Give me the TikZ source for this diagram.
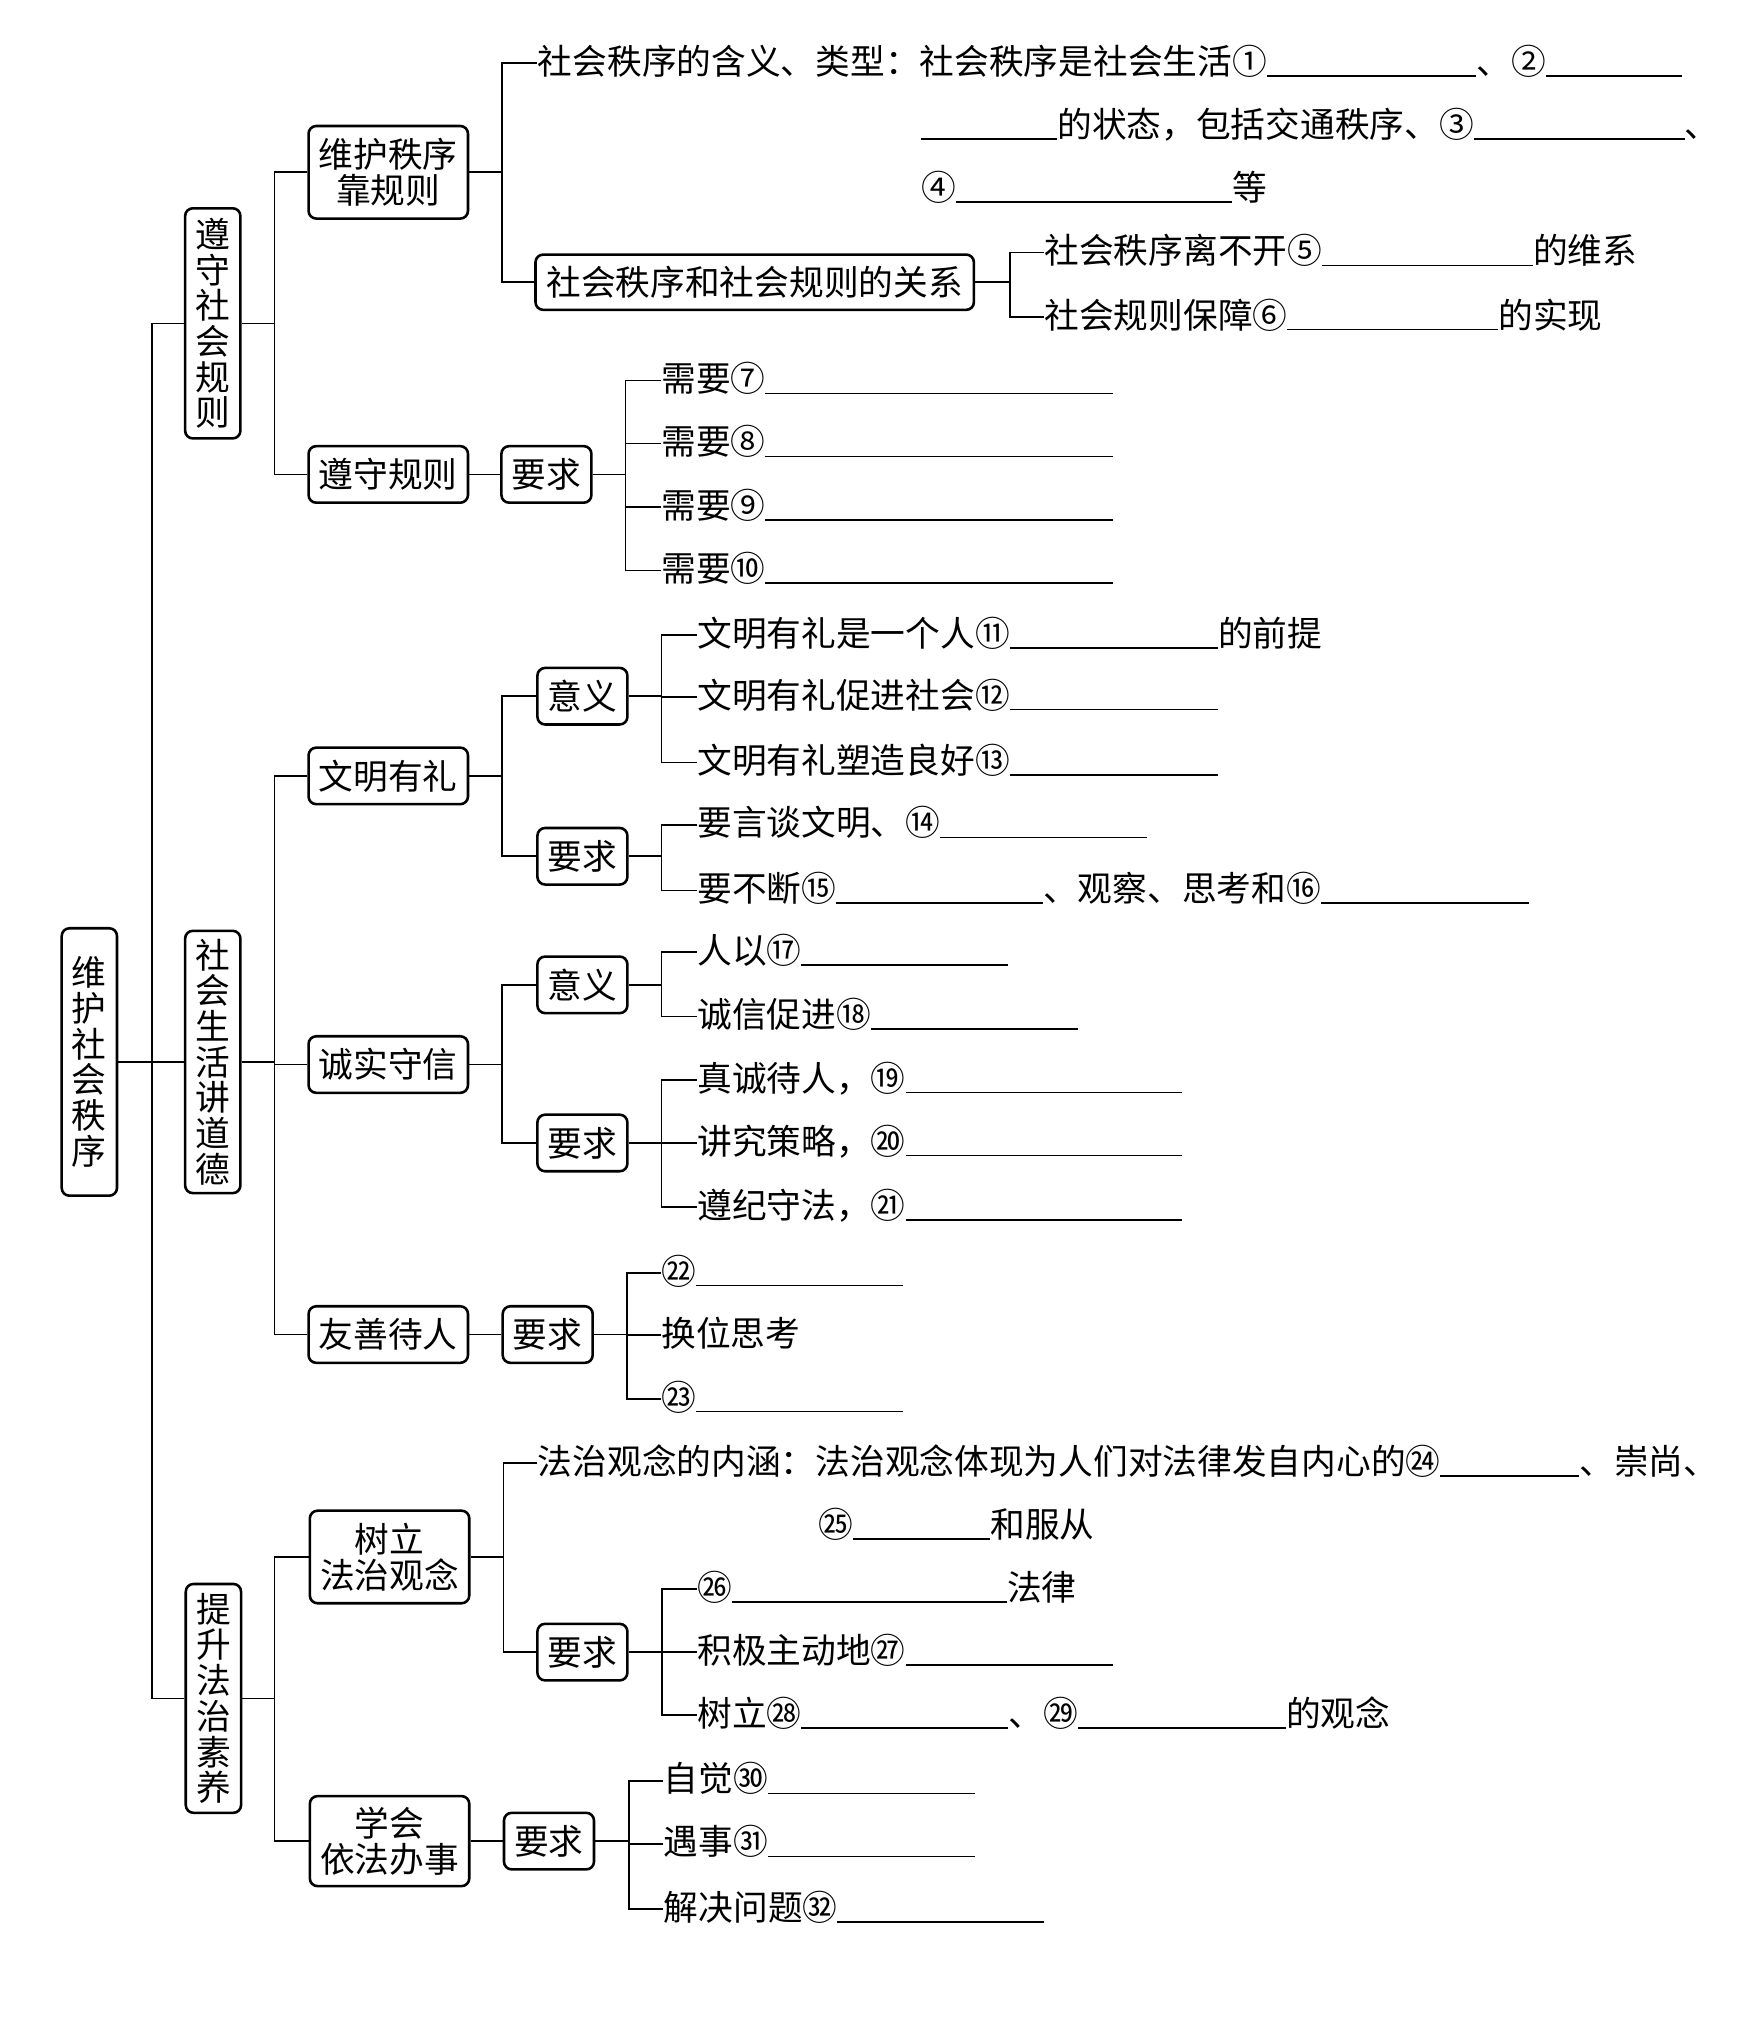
\documentclass[tikz,border=0pt]{standalone}
\usepackage{fontspec}
\setmainfont{Noto Sans CJK SC}
\newcommand\bl[1]{\rule[-0.9pt]{#1pt}{0.6pt}}
\newcommand\cn[1]{\makebox[13.5pt]{#1}}
\newcommand\fan[4]{%
  \coordinate (tmpv) at (#2,0);
  \draw[conn] (#1.east) -- (#1.east -| tmpv);
  \draw[conn] (#3.west) -- (#3.west -| tmpv) -- (#4.west -| tmpv) -- (#4.west);}
\newcommand\midc[1]{\draw[conn] (#1.west) -- (#1.west -| tmpv);}
\begin{document}
\begin{tikzpicture}[x=0.5pt,y=-0.5pt,
  every node/.style={font=\fontsize{13.5}{13.9}\selectfont},
  box/.style={draw, line width=1pt, rounded corners=3pt, inner sep=0pt, align=center},
  vbox/.style={box, minimum width=21.5pt},
  hbox/.style={box, minimum width=62pt, minimum height=22pt},
  dbox/.style={box, minimum width=62pt, minimum height=36pt},
  rbox/.style={box, minimum width=35pt, minimum height=22pt},
  txt/.style={anchor=west, inner sep=0pt, text height=0.95em, text depth=0.08em},
  conn/.style={line width=0.65pt}]
\useasboundingbox (0,0) rectangle (1365,1569.6);

% level 0 / 1
\node[vbox, minimum height=104pt] (root) at (69.5,826) {维\\护\\社\\会\\秩\\序};
\node[vbox, minimum height=89.5pt] (b1) at (165.5,251.5) {遵\\守\\社\\会\\规\\则};
\node[vbox, minimum height=102pt] (b2) at (165.5,826) {社\\会\\生\\活\\讲\\道\\德};
\node[vbox, minimum height=89pt] (b3) at (166,1321) {提\\升\\法\\治\\素\\养};

% level 2
\node[dbox] (c11) at (302,134) {维护秩序\\靠规则};
\node[hbox] (c12) at (302,369) {遵守规则};
\node[rbox] (c12r) at (425,369) {要求};
\node[box, minimum width=170.5pt, minimum height=21.5pt] (rel) at (587,219.5) {社会秩序和社会规则的关系};

\node[hbox] (c21) at (302,603.5) {文明有礼};
\node[rbox] (c21a) at (453,541.5) {意义};
\node[rbox] (c21b) at (453,666) {要求};
\node[hbox] (c22) at (302,828) {诚实守信};
\node[rbox] (c22a) at (453,766) {意义};
\node[rbox] (c22b) at (453,889) {要求};
\node[hbox] (c23) at (302,1038) {友善待人};
\node[rbox] (c23r) at (426,1038) {要求};

\node[dbox] (c31) at (303,1211) {树立\\法治观念};
\node[rbox] (c31r) at (453,1285) {要求};
\node[box, minimum width=62pt, minimum height=35pt] (c32) at (303,1432) {学会\\依法办事};
\node[rbox] (c32r) at (427,1432) {要求};

% texts
\node[txt] (ta) at (418,49) {社会秩序的含义、类型：社会秩序是社会生活\cn{①}\bl{81.5}、\cn{②}\bl{53}};
\node[txt] (ta2) at (716,98) {\bl{53}的状态，包括交通秩序、\cn{③}\bl{82}、};
\node[txt] (ta3) at (716,147) {\cn{④}\bl{107.5}等};
\node[txt] (r1) at (812,196.5) {社会秩序离不开\cn{⑤}\bl{82}的维系};
\node[txt] (r2) at (812,246.5) {社会规则保障\cn{⑥}\bl{82}的实现};

\node[txt] (n7) at (514,296) {需要\cn{⑦}\bl{135}};
\node[txt] (n8) at (514,345) {需要\cn{⑧}\bl{135}};
\node[txt] (n9) at (514,394.5) {需要\cn{⑨}\bl{135}};
\node[txt] (n10) at (514,443.7) {需要\cn{⑩}\bl{135}};

\node[txt] (w1) at (542,494) {文明有礼是一个人\cn{⑪}\bl{81}的前提};
\node[txt] (w2) at (542,542) {文明有礼促进社会\cn{⑫}\bl{81}};
\node[txt] (w3) at (542,593) {文明有礼塑造良好\cn{⑬}\bl{81}};
\node[txt] (w4) at (542,641.5) {要言谈文明、\cn{⑭}\bl{80.5}};
\node[txt] (w5) at (542,692.5) {要不断\cn{⑮}\bl{80.5}、观察、思考和\cn{⑯}\bl{81}};

\node[txt] (h1) at (542,740.7) {人以\cn{⑰}\bl{80.5}};
\node[txt] (h2) at (542,790.5) {诚信促进\cn{⑱}\bl{80.5}};
\node[txt] (h3) at (542,840) {真诚待人，\cn{⑲}\bl{107.5}};
\node[txt] (h4) at (542,889) {讲究策略，\cn{⑳}\bl{107.5}};
\node[txt] (h5) at (542,939) {遵纪守法，\cn{㉑}\bl{107.5}};

\node[txt] (y1) at (514,990) {\cn{㉒}\bl{80.5}};
\node[txt] (y2) at (514,1038.6) {换位思考};
\node[txt] (y3) at (514,1088) {\cn{㉓}\bl{80.5}};

\node[txt] (fa) at (418,1138) {法治观念的内涵：法治观念体现为人们对法律发自内心的\cn{㉔}\bl{54}、崇尚、};
\node[txt] (fa2) at (636,1187) {\cn{㉕}\bl{53.5}和服从};
\node[txt] (f1) at (542,1236) {\cn{㉖}\bl{107}法律};
\node[txt] (f2) at (542,1285) {积极主动地\cn{㉗}\bl{80.5}};
\node[txt] (f3) at (542,1334) {树立\cn{㉘}\bl{80.5}、\cn{㉙}\bl{81}的观念};

\node[txt] (g1) at (516,1385) {自觉\cn{㉚}\bl{80.5}};
\node[txt] (g2) at (516,1434) {遇事\cn{㉛}\bl{80.5}};
\node[txt] (g3) at (516,1484.8) {解决问题\cn{㉜}\bl{80.5}};

% connectors
\coordinate (vA) at (118,0);
\draw[conn] (b1.west) -- (b1.west -| vA) -- (b3.west -| vA) -- (b3.west);
\draw[conn] (root.east) -- (b2.west);

\fan{b1}{213.5}{c11}{c12}
\fan{b2}{213.5}{c21}{c23}
\midc{c22}
\fan{b3}{213.5}{c31}{c32}

\fan{c11}{390.5}{ta}{rel}
\fan{rel}{785.5}{r1}{r2}
\draw[conn] (c12.east) -- (c12r.west);
\fan{c12r}{486.5}{n7}{n10}
\midc{n8}\midc{n9}

\fan{c21}{390.5}{c21a}{c21b}
\fan{c21a}{514.5}{w1}{w3}
\midc{w2}
\fan{c21b}{514.5}{w4}{w5}
\fan{c22}{390.5}{c22a}{c22b}
\fan{c22a}{514.5}{h1}{h2}
\fan{c22b}{514.5}{h3}{h5}
\midc{h4}
\draw[conn] (c23.east) -- (c23r.west);
\fan{c23r}{487.5}{y1}{y3}
\midc{y2}

\fan{c31}{391.5}{fa}{c31r}
\fan{c31r}{515}{f1}{f3}
\midc{f2}
\draw[conn] (c32.east) -- (c32r.west);
\fan{c32r}{489}{g1}{g3}
\midc{g2}
\end{tikzpicture}
\end{document}
